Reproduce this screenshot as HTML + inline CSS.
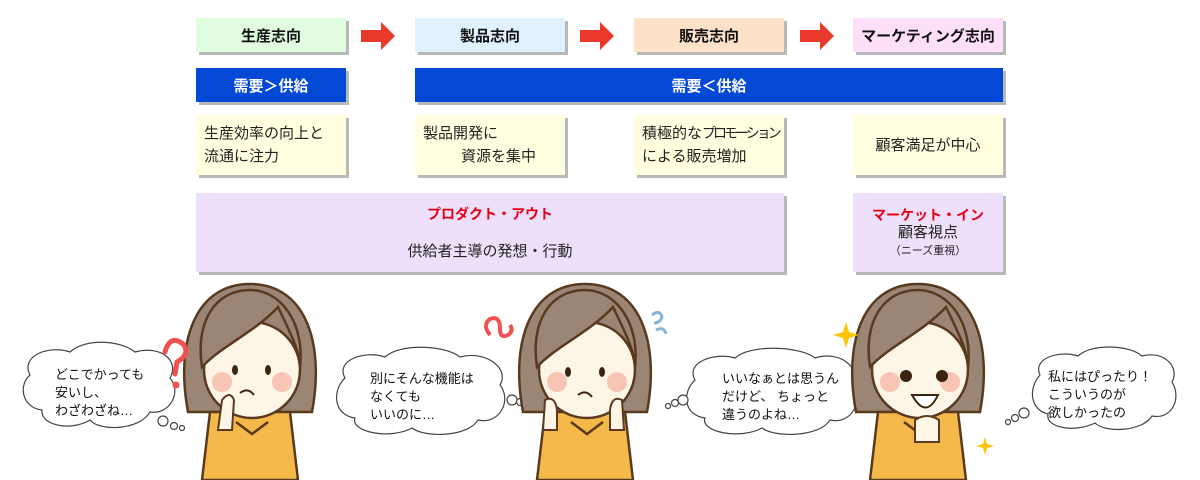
<!DOCTYPE html>
<html><head><meta charset="utf-8"><style>
body{margin:0;width:1200px;height:480px;background:#fff;overflow:hidden;font-family:"Liberation Sans","Noto Sans CJK JP",sans-serif;position:relative}
.b{position:absolute;box-shadow:3px 3px 0 #b8b8b8;display:flex;align-items:center;justify-content:center;box-sizing:border-box}
.h{top:18px;height:34px;font-weight:bold;font-size:15px;color:#111}
.d{top:68px;height:34px;background:#0349d6;color:#fff;font-weight:bold;font-size:15px}
.y{top:115px;height:60px;background:#ffffe0;font-size:15px;color:#222;line-height:23px}
.bt{position:absolute;font-size:13px;line-height:18px;color:#111;white-space:nowrap}
</style></head><body>
<div class="b h" style="left:196px;width:150px;background:#e0fde0">生産志向</div>
<div class="b h" style="left:415px;width:150px;background:#e0f2ff">製品志向</div>
<div class="b h" style="left:634px;width:150px;background:#fde2c8">販売志向</div>
<div class="b h" style="left:853px;width:150px;background:#fde0f8">マーケティング志向</div>
<svg style="position:absolute;left:0;top:0" width="1200" height="60">
<g fill="#e8392a"><path d="M361 30h20v-8l14 14-14 14v-8h-20z"/><path d="M580 30h20v-8l14 14-14 14v-8h-20z"/><path d="M800 30h20v-8l14 14-14 14v-8h-20z"/></g></svg>
<div class="b d" style="left:196px;width:150px">需要＞供給</div>
<div class="b d" style="left:415px;width:588px">需要＜供給</div>
<div class="b y" style="left:196px;width:150px;justify-content:flex-start;padding-left:8px">生産効率の向上と<br>流通に注力</div>
<div class="b y" style="left:415px;width:150px;display:block;padding:7px 0 0 8px">製品開発に<br><span style="padding-left:38px">資源を集中</span></div>
<div class="b y" style="left:634px;width:150px;justify-content:flex-start;padding-left:8px;white-space:nowrap"><div>積極的な<span style="letter-spacing:-3px;font-size:14px">プロモーション</span><br>による販売増加</div></div>
<div class="b y" style="left:853px;width:150px">顧客満足が中心</div>
<div class="b" style="left:196px;top:193px;width:588px;height:79px;background:#eee0fb;flex-direction:column;font-size:15px;color:#222">
<div style="color:#e60012;font-weight:bold;font-size:14px;margin-bottom:16px">プロダクト・アウト</div><div>供給者主導の発想・行動</div></div>
<div class="b" style="left:853px;top:193px;width:150px;height:79px;background:#eee0fb;flex-direction:column;font-size:15px;color:#222;line-height:18px">
<div style="color:#e60012;font-weight:bold;font-size:14px">マーケット・イン</div><div>顧客視点</div><div style="font-size:11px">（ニーズ重視）</div></div>

<svg style="position:absolute;left:0;top:0" width="1200" height="480">
<defs>
<g id="w" stroke="#5a3a1e" stroke-width="2.5">
<path d="M-62 60 C-75 -10 -55 -68 0 -68 C55 -68 75 -10 62 60 Z" fill="#9b8574"/>
<path d="M-40 60 L-48 128 L48 128 L40 60 Z" fill="#f5b84a"/>
<ellipse cx="2" cy="18" rx="48" ry="48" fill="#fdf6e6"/>
<path d="M-48 15 C-30 -5 5 -20 28 -45 C40 -20 50 0 50 15 C55 -30 30 -62 0 -62 C-35 -62 -55 -30 -48 15Z" fill="#9b8574"/>
<circle cx="-28" cy="30" r="10" fill="#f8c4b4" stroke="none"/><circle cx="32" cy="30" r="10" fill="#f8c4b4" stroke="none"/>
<path d="M-14 70 L2 82 L18 70" fill="none"/>
</g>
</defs>
<g fill="#fff" stroke="#444" stroke-width="1.2">
<path d="M30 375 C20 355 50 345 70 352 C85 338 120 340 135 352 C160 345 180 360 170 378 C182 392 170 415 150 412 C140 430 100 432 90 420 C70 432 40 425 42 410 C22 408 18 385 30 375Z"/>
<circle cx="163" cy="421" r="5"/><circle cx="174" cy="426" r="3.5"/><circle cx="182" cy="428" r="2.5"/>
<path d="M345 378 C335 360 365 350 385 357 C400 343 445 345 460 357 C485 350 510 368 500 385 C512 400 500 425 478 420 C468 437 425 438 412 428 C390 440 350 432 355 418 C333 415 332 390 345 378Z"/>
<circle cx="512" cy="400" r="5"/><circle cx="520" cy="402" r="3.5"/><circle cx="527" cy="404" r="2.5"/>
<path d="M695 380 C685 362 715 352 735 358 C750 344 800 346 815 358 C840 350 862 368 852 385 C864 400 852 425 830 420 C820 437 775 438 762 428 C740 440 700 432 705 418 C683 415 682 392 695 380Z"/>
<circle cx="683" cy="400" r="5"/><circle cx="675" cy="403" r="3.5"/><circle cx="668" cy="406" r="2.5"/>
<path d="M1040 375 C1032 358 1060 350 1078 356 C1092 343 1130 345 1142 356 C1165 350 1180 368 1172 382 C1182 398 1172 420 1152 416 C1142 432 1105 433 1095 423 C1075 433 1045 428 1048 414 C1030 410 1028 388 1040 375Z"/>
<circle cx="1024" cy="413" r="5"/><circle cx="1015" cy="418" r="3.5"/><circle cx="1008" cy="422" r="2.5"/>
</g>
<use href="#w" x="250" y="352"/>
<use href="#w" x="585" y="352"/>
<use href="#w" x="918" y="352"/>
<g fill="#3a2410"><ellipse cx="235" cy="370" rx="3" ry="5"/><ellipse cx="268" cy="370" rx="3" ry="5"/>
<ellipse cx="568" cy="372" rx="3" ry="5"/><ellipse cx="602" cy="372" rx="3" ry="5"/>
<circle cx="906" cy="376" r="6"/><circle cx="942" cy="376" r="6"/></g>
<g stroke="#3a2410" stroke-width="2" fill="none">
<path d="M240 393 q8 -6 14 2"/><path d="M578 395 q8 -6 14 2"/>
<path d="M912 395 q14 25 26 0 z" fill="#fff"/></g>
<g fill="#fdf6e6" stroke="#5a3a1e" stroke-width="2">
<path d="M222 400 q8 -10 12 0 l-2 30 h-14z"/>
<path d="M545 400 q10 -5 12 10 l0 20 h-14z"/><path d="M622 400 q-10 -5 -12 10 l0 20 h14z"/>
<path d="M915 420 q12 -8 24 0 v22 h-24z"/>
</g>
<path d="M165 352 q5 -18 18 -8 q8 10 -6 18 l-2 12" stroke="#f05050" stroke-width="5" fill="none" stroke-linecap="round"/><circle cx="176" cy="385" r="3.5" fill="#f05050"/>
<path d="M490 335 q-8 -10 0 -16 q10 -4 10 10 q0 10 8 6 q6 -4 2 -10" stroke="#f05050" stroke-width="4" fill="none"/>
<path d="M652 315 q8 -6 10 2 q-2 6 -8 6 M656 330 q8 -4 10 4" stroke="#8ab4d4" stroke-width="3" fill="none"/>
<g fill="#ffc600"><path d="M846 322 l3 10 10 3 -10 3 -3 10 -3 -10 -10 -3 10 -3z"/><path d="M985 437 l2 7 7 2 -7 2 -2 7 -2 -7 -7 -2 7 -2z"/></g>
</svg>
<div class="bt" style="left:55px;top:366px">どこでかっても<br>安いし、<br>わざわざね…</div>
<div class="bt" style="left:370px;top:370px">別にそんな機能は<br>なくても<br>いいのに…</div>
<div class="bt" style="left:722px;top:370px">いいなぁとは思うん<br>だけど、 ちょっと<br>違うのよね…</div>
<div class="bt" style="left:1048px;top:368px">私にはぴったり！<br>こういうのが<br>欲しかったの</div>
</body></html>
